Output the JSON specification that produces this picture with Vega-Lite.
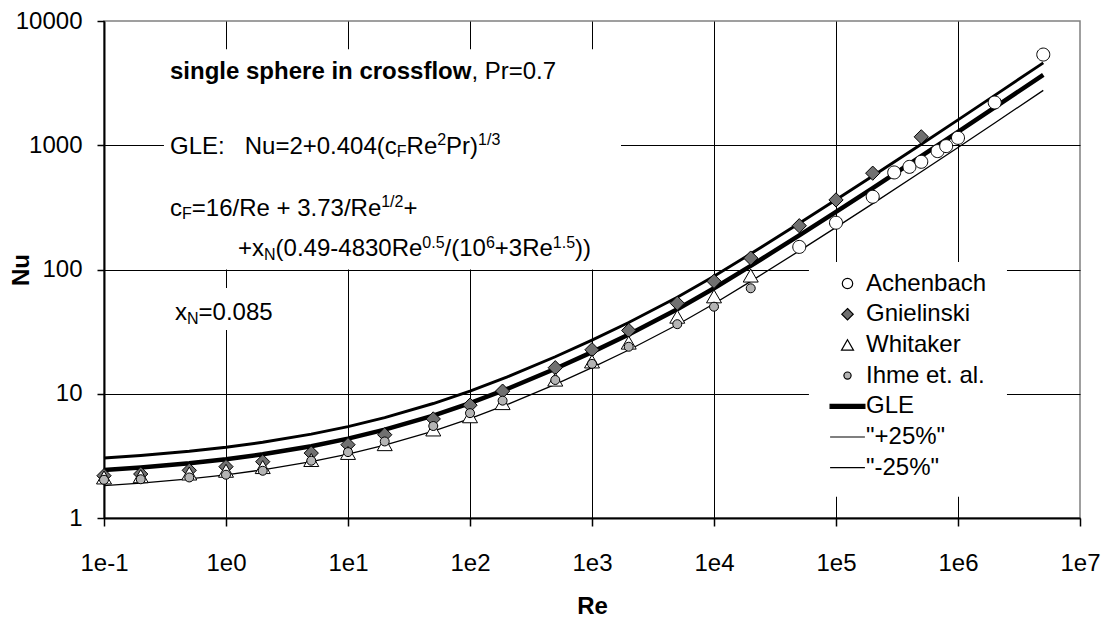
{
  "$schema": "https://vega.github.io/schema/vega-lite/v6.json",
  "width": 976,
  "height": 497,
  "autosize": {"type": "none"},
  "padding": {"left": 104, "top": 21, "right": 24, "bottom": 106},
  "background": "white",
  "datasets": {
    "curves": [
      {"Re": 0.1, "Nu": 2.430, "curve": "GLE"},
      {"Re": 0.2, "Nu": 2.547, "curve": "GLE"},
      {"Re": 0.5, "Nu": 2.755, "curve": "GLE"},
      {"Re": 1, "Nu": 2.970, "curve": "GLE"},
      {"Re": 2, "Nu": 3.254, "curve": "GLE"},
      {"Re": 5, "Nu": 3.783, "curve": "GLE"},
      {"Re": 10, "Nu": 4.352, "curve": "GLE"},
      {"Re": 20, "Nu": 5.138, "curve": "GLE"},
      {"Re": 50, "Nu": 6.676, "curve": "GLE"},
      {"Re": 100, "Nu": 8.410, "curve": "GLE"},
      {"Re": 200, "Nu": 10.88, "curve": "GLE"},
      {"Re": 500, "Nu": 15.88, "curve": "GLE"},
      {"Re": 1000, "Nu": 21.63, "curve": "GLE"},
      {"Re": 2000, "Nu": 29.98, "curve": "GLE"},
      {"Re": 5000, "Nu": 47.85, "curve": "GLE"},
      {"Re": 10000, "Nu": 70.71, "curve": "GLE"},
      {"Re": 20000, "Nu": 107.0, "curve": "GLE"},
      {"Re": 50000, "Nu": 188.3, "curve": "GLE"},
      {"Re": 100000, "Nu": 290.9, "curve": "GLE"},
      {"Re": 200000, "Nu": 452.1, "curve": "GLE"},
      {"Re": 500000, "Nu": 815.7, "curve": "GLE"},
      {"Re": 1000000, "Nu": 1280, "curve": "GLE"},
      {"Re": 2000000, "Nu": 2016, "curve": "GLE"},
      {"Re": 5000000, "Nu": 3685, "curve": "GLE"},
      {"Re": 0.1, "Nu": 3.038, "curve": "\"+25%\""},
      {"Re": 0.2, "Nu": 3.184, "curve": "\"+25%\""},
      {"Re": 0.5, "Nu": 3.444, "curve": "\"+25%\""},
      {"Re": 1, "Nu": 3.713, "curve": "\"+25%\""},
      {"Re": 2, "Nu": 4.068, "curve": "\"+25%\""},
      {"Re": 5, "Nu": 4.729, "curve": "\"+25%\""},
      {"Re": 10, "Nu": 5.440, "curve": "\"+25%\""},
      {"Re": 20, "Nu": 6.423, "curve": "\"+25%\""},
      {"Re": 50, "Nu": 8.345, "curve": "\"+25%\""},
      {"Re": 100, "Nu": 10.51, "curve": "\"+25%\""},
      {"Re": 200, "Nu": 13.60, "curve": "\"+25%\""},
      {"Re": 500, "Nu": 19.85, "curve": "\"+25%\""},
      {"Re": 1000, "Nu": 27.04, "curve": "\"+25%\""},
      {"Re": 2000, "Nu": 37.48, "curve": "\"+25%\""},
      {"Re": 5000, "Nu": 59.81, "curve": "\"+25%\""},
      {"Re": 10000, "Nu": 88.39, "curve": "\"+25%\""},
      {"Re": 20000, "Nu": 133.8, "curve": "\"+25%\""},
      {"Re": 50000, "Nu": 235.4, "curve": "\"+25%\""},
      {"Re": 100000, "Nu": 363.6, "curve": "\"+25%\""},
      {"Re": 200000, "Nu": 565.1, "curve": "\"+25%\""},
      {"Re": 500000, "Nu": 1020, "curve": "\"+25%\""},
      {"Re": 1000000, "Nu": 1600, "curve": "\"+25%\""},
      {"Re": 2000000, "Nu": 2520, "curve": "\"+25%\""},
      {"Re": 5000000, "Nu": 4606, "curve": "\"+25%\""},
      {"Re": 0.1, "Nu": 1.823, "curve": "\"-25%\""},
      {"Re": 0.2, "Nu": 1.910, "curve": "\"-25%\""},
      {"Re": 0.5, "Nu": 2.066, "curve": "\"-25%\""},
      {"Re": 1, "Nu": 2.228, "curve": "\"-25%\""},
      {"Re": 2, "Nu": 2.441, "curve": "\"-25%\""},
      {"Re": 5, "Nu": 2.837, "curve": "\"-25%\""},
      {"Re": 10, "Nu": 3.264, "curve": "\"-25%\""},
      {"Re": 20, "Nu": 3.854, "curve": "\"-25%\""},
      {"Re": 50, "Nu": 5.007, "curve": "\"-25%\""},
      {"Re": 100, "Nu": 6.308, "curve": "\"-25%\""},
      {"Re": 200, "Nu": 8.160, "curve": "\"-25%\""},
      {"Re": 500, "Nu": 11.91, "curve": "\"-25%\""},
      {"Re": 1000, "Nu": 16.22, "curve": "\"-25%\""},
      {"Re": 2000, "Nu": 22.49, "curve": "\"-25%\""},
      {"Re": 5000, "Nu": 35.89, "curve": "\"-25%\""},
      {"Re": 10000, "Nu": 53.03, "curve": "\"-25%\""},
      {"Re": 20000, "Nu": 80.25, "curve": "\"-25%\""},
      {"Re": 50000, "Nu": 141.2, "curve": "\"-25%\""},
      {"Re": 100000, "Nu": 218.2, "curve": "\"-25%\""},
      {"Re": 200000, "Nu": 339.1, "curve": "\"-25%\""},
      {"Re": 500000, "Nu": 611.8, "curve": "\"-25%\""},
      {"Re": 1000000, "Nu": 960.0, "curve": "\"-25%\""},
      {"Re": 2000000, "Nu": 1512, "curve": "\"-25%\""},
      {"Re": 5000000, "Nu": 2764, "curve": "\"-25%\""}
    ],
    "measurements": [
      {"Re": 50000, "Nu": 152, "series": "Achenbach"},
      {"Re": 100000, "Nu": 238, "series": "Achenbach"},
      {"Re": 200000, "Nu": 385, "series": "Achenbach"},
      {"Re": 300000, "Nu": 604, "series": "Achenbach"},
      {"Re": 400000, "Nu": 670, "series": "Achenbach"},
      {"Re": 500000, "Nu": 736, "series": "Achenbach"},
      {"Re": 680000, "Nu": 897, "series": "Achenbach"},
      {"Re": 800000, "Nu": 984, "series": "Achenbach"},
      {"Re": 1000000, "Nu": 1147, "series": "Achenbach"},
      {"Re": 2000000, "Nu": 2208, "series": "Achenbach"},
      {"Re": 5000000, "Nu": 5370, "series": "Achenbach"},
      {"Re": 0.1, "Nu": 2.19, "series": "Gnielinski"},
      {"Re": 0.2, "Nu": 2.26, "series": "Gnielinski"},
      {"Re": 0.5, "Nu": 2.42, "series": "Gnielinski"},
      {"Re": 1, "Nu": 2.59, "series": "Gnielinski"},
      {"Re": 2, "Nu": 2.84, "series": "Gnielinski"},
      {"Re": 5, "Nu": 3.33, "series": "Gnielinski"},
      {"Re": 10, "Nu": 3.89, "series": "Gnielinski"},
      {"Re": 20, "Nu": 4.68, "series": "Gnielinski"},
      {"Re": 50, "Nu": 6.27, "series": "Gnielinski"},
      {"Re": 100, "Nu": 8.09, "series": "Gnielinski"},
      {"Re": 185, "Nu": 10.5, "series": "Gnielinski"},
      {"Re": 500, "Nu": 16.2, "series": "Gnielinski"},
      {"Re": 1000, "Nu": 22.6, "series": "Gnielinski"},
      {"Re": 2000, "Nu": 32.3, "series": "Gnielinski"},
      {"Re": 5000, "Nu": 53.5, "series": "Gnielinski"},
      {"Re": 10000, "Nu": 80.4, "series": "Gnielinski"},
      {"Re": 20000, "Nu": 123.6, "series": "Gnielinski"},
      {"Re": 50000, "Nu": 225, "series": "Gnielinski"},
      {"Re": 100000, "Nu": 363, "series": "Gnielinski"},
      {"Re": 200000, "Nu": 596, "series": "Gnielinski"},
      {"Re": 500000, "Nu": 1169, "series": "Gnielinski"},
      {"Re": 0.1, "Nu": 2.12, "series": "Whitaker"},
      {"Re": 0.2, "Nu": 2.17, "series": "Whitaker"},
      {"Re": 0.5, "Nu": 2.28, "series": "Whitaker"},
      {"Re": 1, "Nu": 2.40, "series": "Whitaker"},
      {"Re": 2, "Nu": 2.57, "series": "Whitaker"},
      {"Re": 5, "Nu": 2.93, "series": "Whitaker"},
      {"Re": 10, "Nu": 3.34, "series": "Whitaker"},
      {"Re": 20, "Nu": 3.93, "series": "Whitaker"},
      {"Re": 50, "Nu": 5.16, "series": "Whitaker"},
      {"Re": 100, "Nu": 6.59, "series": "Whitaker"},
      {"Re": 185, "Nu": 8.41, "series": "Whitaker"},
      {"Re": 500, "Nu": 13.0, "series": "Whitaker"},
      {"Re": 1000, "Nu": 18.2, "series": "Whitaker"},
      {"Re": 2000, "Nu": 25.8, "series": "Whitaker"},
      {"Re": 5000, "Nu": 41.7, "series": "Whitaker"},
      {"Re": 10000, "Nu": 60.8, "series": "Whitaker"},
      {"Re": 20000, "Nu": 89.4, "series": "Whitaker"},
      {"Re": 0.1, "Nu": 2.03, "series": "Ihme et. al."},
      {"Re": 0.2, "Nu": 2.05, "series": "Ihme et. al."},
      {"Re": 0.5, "Nu": 2.12, "series": "Ihme et. al."},
      {"Re": 1, "Nu": 2.23, "series": "Ihme et. al."},
      {"Re": 2, "Nu": 2.40, "series": "Ihme et. al."},
      {"Re": 5, "Nu": 2.89, "series": "Ihme et. al."},
      {"Re": 10, "Nu": 3.39, "series": "Ihme et. al."},
      {"Re": 20, "Nu": 4.13, "series": "Ihme et. al."},
      {"Re": 50, "Nu": 5.5, "series": "Ihme et. al."},
      {"Re": 100, "Nu": 6.98, "series": "Ihme et. al."},
      {"Re": 185, "Nu": 8.8, "series": "Ihme et. al."},
      {"Re": 500, "Nu": 12.9, "series": "Ihme et. al."},
      {"Re": 1000, "Nu": 17.4, "series": "Ihme et. al."},
      {"Re": 2000, "Nu": 23.9, "series": "Ihme et. al."},
      {"Re": 5000, "Nu": 36.3, "series": "Ihme et. al."},
      {"Re": 10000, "Nu": 50.2, "series": "Ihme et. al."},
      {"Re": 20000, "Nu": 70.6, "series": "Ihme et. al."}
    ]
  },
  "layer": [
    {
      "data": {"values": [{}]},
      "mark": {"type": "rect", "fill": "white"},
      "encoding": {
        "x": {"datum": 0.31, "type": "quantitative"},
        "x2": {"datum": 1729},
        "y": {"datum": 5922, "type": "quantitative"},
        "y2": {"datum": 100}
      }
    },
    {
      "data": {"values": [{}]},
      "mark": {"type": "rect", "fill": "white"},
      "encoding": {
        "x": {"datum": 0.31, "type": "quantitative"},
        "x2": {"datum": 3.35},
        "y": {"datum": 71, "type": "quantitative"},
        "y2": {"datum": 32.6}
      }
    },
    {
      "data": {"values": [{}]},
      "mark": {"type": "rect", "fill": "white"},
      "encoding": {
        "x": {"datum": 60000, "type": "quantitative"},
        "x2": {"datum": 2520000},
        "y": {"datum": 115, "type": "quantitative"},
        "y2": {"datum": 1.48}
      }
    },
    {
      "data": {"name": "curves"},
      "mark": {"type": "line", "stroke": "black", "strokeCap": "butt"},
      "encoding": {
        "x": {
          "field": "Re", "type": "quantitative",
          "scale": {"type": "log", "domain": [0.1, 10000000], "nice": false},
          "axis": {
            "values": [0.1, 1, 10, 100, 1000, 10000, 100000, 1000000, 10000000],
            "labelExpr": "'1e' + round(log(datum.value) / LN10)",
            "labelPadding": 25,
            "labelFlush": false,
            "labelOverlap": false,
            "labelBound": false,
            "tickSize": 8,
            "grid": true,
            "gridColor": "black",
            "gridOpacity": {"condition": {"test": "datum.value >= 10000000", "value": 0}, "value": 1},
            "title": "Re",
            "titleX": 488,
            "titleY": 88,
            "titleBaseline": "middle"
          }
        },
        "y": {
          "field": "Nu", "type": "quantitative",
          "scale": {"type": "log", "domain": [1, 10000], "nice": false},
          "axis": {
            "values": [1, 10, 100, 1000, 10000],
            "format": "d",
            "labelPadding": 15,
            "labelFlush": false,
            "labelOverlap": false,
            "labelBound": false,
            "tickSize": 7,
            "grid": true,
            "gridColor": "black",
            "gridOpacity": {"condition": {"test": "datum.value >= 10000", "value": 0}, "value": 1},
            "title": "Nu",
            "titleX": -83,
            "titleY": 248.5,
            "titleAngle": 270,
            "titleBaseline": "middle"
          }
        },
        "detail": {"field": "curve", "type": "nominal"},
        "strokeWidth": {
          "field": "curve", "type": "nominal",
          "scale": {"domain": ["GLE", "\"+25%\"", "\"-25%\""], "range": [4.5, 1.3, 1.3]},
          "legend": null
        }
      }
    },
    {
      "data": {"name": "measurements"},
      "mark": {"type": "point", "filled": true, "strokeWidth": 1, "opacity": 1, "size": 225},
      "encoding": {
        "x": {"field": "Re", "type": "quantitative", "scale": {"type": "log", "domain": [0.1, 10000000], "nice": false}},
        "y": {"field": "Nu", "type": "quantitative", "scale": {"type": "log", "domain": [1, 10000], "nice": false}},
        "shape": {
          "field": "series", "type": "nominal",
          "scale": {
            "domain": ["Achenbach", "Gnielinski", "Whitaker", "Ihme et. al.", "GLE", "\"+25%\"", "\"-25%\""],
            "range": [
              "M-0.867,0A0.867,0.867 0 1,0 0.867,0A0.867,0.867 0 1,0 -0.867,0Z",
              "M0,-0.95L0.95,0L0,0.95L-0.95,0Z",
              "M0,-0.867L1,0.867L-1,0.867Z",
              "M-0.6,0A0.6,0.6 0 1,0 0.6,0A0.6,0.6 0 1,0 -0.6,0Z",
              "M-2.9,-0.33H2.9V0.33H-2.9Z",
              "M-2.9,0H2.9",
              "M-2.9,0H2.9"
            ]
          },
          "legend": {
            "title": null,
            "orient": "none",
            "legendX": 731.5,
            "legendY": 250.5,
            "padding": 0,
            "labelFont": "Liberation Sans",
            "labelFontSize": 24,
            "labelColor": "black",
            "labelOffset": 6.5,
            "labelLimit": 300,
            "symbolSize": 144,
            "symbolStrokeWidth": 1.2,
            "rowPadding": 6.7
          }
        },
        "fill": {
          "field": "series", "type": "nominal",
          "scale": {
            "domain": ["Achenbach", "Gnielinski", "Whitaker", "Ihme et. al.", "GLE", "\"+25%\"", "\"-25%\""],
            "range": ["white", "#707070", "white", "#b4b4b4", "black", "transparent", "transparent"]
          },
          "legend": {
            "title": null,
            "orient": "none",
            "legendX": 731.5,
            "legendY": 250.5,
            "padding": 0,
            "labelFont": "Liberation Sans",
            "labelFontSize": 24,
            "labelColor": "black",
            "labelOffset": 6.5,
            "labelLimit": 300,
            "symbolSize": 144,
            "symbolStrokeWidth": 1.2,
            "rowPadding": 6.7
          }
        },
        "stroke": {
          "field": "series", "type": "nominal",
          "scale": {
            "domain": ["Achenbach", "Gnielinski", "Whitaker", "Ihme et. al.", "GLE", "\"+25%\"", "\"-25%\""],
            "range": ["black", "black", "black", "black", "black", "black", "black"]
          },
          "legend": {
            "title": null,
            "orient": "none",
            "legendX": 731.5,
            "legendY": 250.5,
            "padding": 0,
            "labelFont": "Liberation Sans",
            "labelFontSize": 24,
            "labelColor": "black",
            "labelOffset": 6.5,
            "labelLimit": 300,
            "symbolSize": 144,
            "symbolStrokeWidth": 1.2,
            "rowPadding": 6.7
          }
        }
      }
    },
    {"data": {"values": [{}]}, "mark": {"type": "text", "text": "single sphere in crossflow", "fontWeight": "bold", "fontSize": 24, "align": "left", "baseline": "alphabetic", "dx": 0, "dy": 8.5}, "encoding": {"x": {"datum": 0.34754, "type": "quantitative"}, "y": {"datum": 4017, "type": "quantitative"}}},
    {"data": {"values": [{}]}, "mark": {"type": "text", "text": ", Pr=0.7", "fontSize": 24, "align": "left", "baseline": "alphabetic", "dx": 301.4, "dy": 8.5}, "encoding": {"x": {"datum": 0.34754, "type": "quantitative"}, "y": {"datum": 4017, "type": "quantitative"}}},

    {"data": {"values": [{}]}, "mark": {"type": "text", "text": "GLE:\u00a0\u00a0\u00a0Nu=2+0.404(c", "fontSize": 24, "align": "left", "baseline": "alphabetic", "dx": 0, "dy": 8.5}, "encoding": {"x": {"datum": 0.34754, "type": "quantitative"}, "y": {"datum": 1000, "type": "quantitative"}}},
    {"data": {"values": [{}]}, "mark": {"type": "text", "text": "F", "fontSize": 16, "align": "left", "baseline": "alphabetic", "dx": 226.8, "dy": 12}, "encoding": {"x": {"datum": 0.34754, "type": "quantitative"}, "y": {"datum": 1000, "type": "quantitative"}}},
    {"data": {"values": [{}]}, "mark": {"type": "text", "text": "Re", "fontSize": 24, "align": "left", "baseline": "alphabetic", "dx": 236.6, "dy": 8.5}, "encoding": {"x": {"datum": 0.34754, "type": "quantitative"}, "y": {"datum": 1000, "type": "quantitative"}}},
    {"data": {"values": [{}]}, "mark": {"type": "text", "text": "2", "fontSize": 16, "align": "left", "baseline": "alphabetic", "dx": 267.2, "dy": 0}, "encoding": {"x": {"datum": 0.34754, "type": "quantitative"}, "y": {"datum": 1000, "type": "quantitative"}}},
    {"data": {"values": [{}]}, "mark": {"type": "text", "text": "Pr)", "fontSize": 24, "align": "left", "baseline": "alphabetic", "dx": 276.1, "dy": 8.5}, "encoding": {"x": {"datum": 0.34754, "type": "quantitative"}, "y": {"datum": 1000, "type": "quantitative"}}},
    {"data": {"values": [{}]}, "mark": {"type": "text", "text": "1/3", "fontSize": 16, "align": "left", "baseline": "alphabetic", "dx": 308.1, "dy": 0}, "encoding": {"x": {"datum": 0.34754, "type": "quantitative"}, "y": {"datum": 1000, "type": "quantitative"}}},

    {"data": {"values": [{}]}, "mark": {"type": "text", "text": "c", "fontSize": 24, "align": "left", "baseline": "alphabetic", "dx": 0, "dy": 8.5}, "encoding": {"x": {"datum": 0.34754, "type": "quantitative"}, "y": {"datum": 318, "type": "quantitative"}}},
    {"data": {"values": [{}]}, "mark": {"type": "text", "text": "F", "fontSize": 16, "align": "left", "baseline": "alphabetic", "dx": 12, "dy": 12}, "encoding": {"x": {"datum": 0.34754, "type": "quantitative"}, "y": {"datum": 318, "type": "quantitative"}}},
    {"data": {"values": [{}]}, "mark": {"type": "text", "text": "=16/Re + 3.73/Re", "fontSize": 24, "align": "left", "baseline": "alphabetic", "dx": 21.8, "dy": 8.5}, "encoding": {"x": {"datum": 0.34754, "type": "quantitative"}, "y": {"datum": 318, "type": "quantitative"}}},
    {"data": {"values": [{}]}, "mark": {"type": "text", "text": "1/2", "fontSize": 16, "align": "left", "baseline": "alphabetic", "dx": 211.2, "dy": 0}, "encoding": {"x": {"datum": 0.34754, "type": "quantitative"}, "y": {"datum": 318, "type": "quantitative"}}},
    {"data": {"values": [{}]}, "mark": {"type": "text", "text": "+", "fontSize": 24, "align": "left", "baseline": "alphabetic", "dx": 233.5, "dy": 8.5}, "encoding": {"x": {"datum": 0.34754, "type": "quantitative"}, "y": {"datum": 318, "type": "quantitative"}}},

    {"data": {"values": [{}]}, "mark": {"type": "text", "text": "+x", "fontSize": 24, "align": "left", "baseline": "alphabetic", "dx": 0, "dy": 8.5}, "encoding": {"x": {"datum": 1.2539, "type": "quantitative"}, "y": {"datum": 149, "type": "quantitative"}}},
    {"data": {"values": [{}]}, "mark": {"type": "text", "text": "N", "fontSize": 16, "align": "left", "baseline": "alphabetic", "dx": 26, "dy": 12}, "encoding": {"x": {"datum": 1.2539, "type": "quantitative"}, "y": {"datum": 149, "type": "quantitative"}}},
    {"data": {"values": [{}]}, "mark": {"type": "text", "text": "(0.49-4830Re", "fontSize": 24, "align": "left", "baseline": "alphabetic", "dx": 37.6, "dy": 8.5}, "encoding": {"x": {"datum": 1.2539, "type": "quantitative"}, "y": {"datum": 149, "type": "quantitative"}}},
    {"data": {"values": [{}]}, "mark": {"type": "text", "text": "0.5", "fontSize": 16, "align": "left", "baseline": "alphabetic", "dx": 184.3, "dy": 0}, "encoding": {"x": {"datum": 1.2539, "type": "quantitative"}, "y": {"datum": 149, "type": "quantitative"}}},
    {"data": {"values": [{}]}, "mark": {"type": "text", "text": "/(10", "fontSize": 24, "align": "left", "baseline": "alphabetic", "dx": 206.5, "dy": 8.5}, "encoding": {"x": {"datum": 1.2539, "type": "quantitative"}, "y": {"datum": 149, "type": "quantitative"}}},
    {"data": {"values": [{}]}, "mark": {"type": "text", "text": "6", "fontSize": 16, "align": "left", "baseline": "alphabetic", "dx": 247.9, "dy": 0}, "encoding": {"x": {"datum": 1.2539, "type": "quantitative"}, "y": {"datum": 149, "type": "quantitative"}}},
    {"data": {"values": [{}]}, "mark": {"type": "text", "text": "+3Re", "fontSize": 24, "align": "left", "baseline": "alphabetic", "dx": 256.8, "dy": 8.5}, "encoding": {"x": {"datum": 1.2539, "type": "quantitative"}, "y": {"datum": 149, "type": "quantitative"}}},
    {"data": {"values": [{}]}, "mark": {"type": "text", "text": "1.5", "fontSize": 16, "align": "left", "baseline": "alphabetic", "dx": 314.8, "dy": 0}, "encoding": {"x": {"datum": 1.2539, "type": "quantitative"}, "y": {"datum": 149, "type": "quantitative"}}},
    {"data": {"values": [{}]}, "mark": {"type": "text", "text": "))", "fontSize": 24, "align": "left", "baseline": "alphabetic", "dx": 337.1, "dy": 8.5}, "encoding": {"x": {"datum": 1.2539, "type": "quantitative"}, "y": {"datum": 149, "type": "quantitative"}}},

    {"data": {"values": [{}]}, "mark": {"type": "text", "text": "x", "fontSize": 24, "align": "left", "baseline": "alphabetic", "dx": 0, "dy": 8.5}, "encoding": {"x": {"datum": 0.38198, "type": "quantitative"}, "y": {"datum": 45.5, "type": "quantitative"}}},
    {"data": {"values": [{}]}, "mark": {"type": "text", "text": "N", "fontSize": 16, "align": "left", "baseline": "alphabetic", "dx": 12, "dy": 12}, "encoding": {"x": {"datum": 0.38198, "type": "quantitative"}, "y": {"datum": 45.5, "type": "quantitative"}}},
    {"data": {"values": [{}]}, "mark": {"type": "text", "text": "=0.085", "fontSize": 24, "align": "left", "baseline": "alphabetic", "dx": 23.55, "dy": 8.5}, "encoding": {"x": {"datum": 0.38198, "type": "quantitative"}, "y": {"datum": 45.5, "type": "quantitative"}}}
  ],
  "config": {
    "font": "Liberation Sans",
    "view": {"stroke": "#808080", "strokeWidth": 1.5},
    "text": {"color": "black", "font": "Liberation Sans"},
    "axis": {
      "labelFont": "Liberation Sans",
      "labelFontSize": 24,
      "labelColor": "black",
      "titleFont": "Liberation Sans",
      "titleFontSize": 24,
      "titleFontWeight": "bold",
      "titleColor": "black",
      "tickColor": "black",
      "tickWidth": 1.5,
      "domainColor": "black",
      "domainWidth": 2,
      "gridWidth": 1
    }
  }
}
